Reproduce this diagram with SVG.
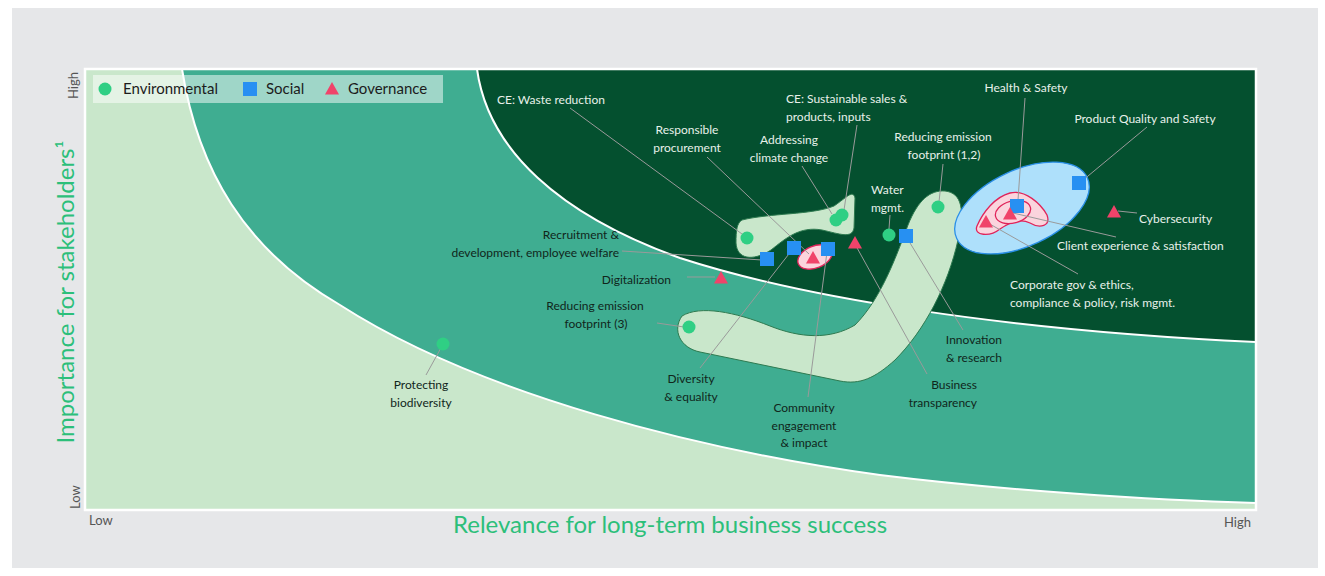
<svg xmlns="http://www.w3.org/2000/svg" xmlns:xlink="http://www.w3.org/1999/xlink" width="1325" height="576" viewBox="0 0 1325 576">
<style>
.lbl{font-family:Lato,"Liberation Sans",sans-serif;font-size:12px}
.lt{fill:#e8f1ea}
.dk{fill:#10261b}
.ld{stroke:#9a9a9a;stroke-width:1;fill:none}
.env{fill:#2fcf84}
.soc{fill:#2790f2}
.gov{fill:#f0436a}
.blob{fill:#c9e7cb;stroke:#2e7a50;stroke-width:1}
.pink{fill:#fbd4dd;stroke:#e0245a;stroke-width:1.3}
.sep{fill:none;stroke:#ffffff;stroke-width:2}
.ax{font-family:Lato,"Liberation Sans",sans-serif;font-size:13px;fill:#555}
.title{font-family:Lato,"Liberation Sans",sans-serif;font-size:24px;fill:#2cbf7a}
.leg{font-family:Lato,"Liberation Sans",sans-serif;font-size:15px;fill:#1c1c1c}
</style>
<defs>
<circle id="dot" r="6.5"/>
<rect id="sq" x="-7" y="-7" width="14" height="14"/>
<path id="tri" d="M0,-7 L7,5.5 L-7,5.5 Z"/>
</defs>
<rect x="0" y="0" width="1325" height="576" fill="#ffffff"/>
<rect x="12" y="8" width="1306" height="560" fill="#e6e7e9"/>

<g id="plot">
<rect x="85" y="69" width="1171" height="441" fill="#c9e7cb"/>
<path d="M182,69 C198,170 245,250 340,305 C480,395 700,450 880,475 C1000,490 1150,500 1256,503 L1256,69 Z" fill="#3fad91"/>
<path d="M477,69 C488,150 560,215 680,258 C800,297 1000,330 1256,342 L1256,69 Z" fill="#04502f"/>
<path class="sep" d="M182,69 C198,170 245,250 340,305 C480,395 700,450 880,475 C1000,490 1150,500 1256,503"/>
<path class="sep" d="M477,69 C488,150 560,215 680,258 C800,297 1000,330 1256,342"/>
<rect x="85" y="69" width="1171" height="441" fill="none" stroke="#ffffff" stroke-width="2.5"/>
</g>

<g id="axes">
<text class="ax" transform="translate(78,99) rotate(-90)">High</text>
<text class="ax" transform="translate(80,509) rotate(-90)">Low</text>
<text class="ax" x="89" y="525">Low</text>
<text class="ax" x="1251" y="527" text-anchor="end">High</text>
<text class="title" x="670" y="533" text-anchor="middle">Relevance for long-term business success</text>
<text class="title" transform="translate(74,292) rotate(-90)" text-anchor="middle">Importance for stakeholders¹</text>
</g>

<g id="legend">
<rect x="93" y="75" width="350" height="28" fill="#ffffff" fill-opacity="0.5"/>
<use xlink:href="#dot" x="105" y="89" class="env"/>
<text class="leg" x="123" y="94">Environmental</text>
<use xlink:href="#sq" x="250" y="89" class="soc"/>
<text class="leg" x="266" y="94">Social</text>
<use xlink:href="#tri" x="332" y="89" class="gov"/>
<text class="leg" x="348" y="94">Governance</text>
</g>

<g id="clusters">
<path id="blob-ce" class="blob" d="M742,220 C770,213 812,215 834,206 C846,198 853,189 855,198 L854,228 C852,239 840,234 822,230 C800,226 786,238 771,250 C752,262 737,259 736,243 C736,230 737,223 742,220 Z"/>
<path id="blob-boomerang" class="blob" d="M682,316 C700,305 735,312 770,326 C800,338 830,340 855,325 C880,300 895,260 908,225 C918,200 930,190 945,191 C962,193 965,210 958,240 C948,285 925,330 895,360 C875,378 860,385 840,381 L700,352 C680,348 672,330 682,316 Z"/>
<ellipse id="blue-ellipse" cx="1022" cy="208" rx="72" ry="38" transform="rotate(-25 1022 208)" fill="#aee0fb" stroke="#2a8fe8" stroke-width="1.3"/>
<path id="red-blob" class="pink" d="M977,226 C983,212 995,197 1010,193 C1025,189 1041,204 1047,215 C1051,226 1040,229 1030,223 C1020,218 1010,222 1000,229 C990,237 973,236 977,226 Z"/>
<ellipse class="pink" cx="1013" cy="212" rx="18" ry="11" transform="rotate(-15 1013 212)"/>
<ellipse class="pink" cx="815" cy="257" rx="18" ry="11" transform="rotate(-22 815 257)"/>
</g>

<g id="connectors">
<line class="ld" x1="570" y1="108" x2="742" y2="234"/>
<line class="ld" x1="707" y1="157" x2="809" y2="254"/>
<line class="ld" x1="802" y1="166" x2="832" y2="214"/>
<line class="ld" x1="857" y1="125" x2="844" y2="210"/>
<line class="ld" x1="943" y1="164" x2="939" y2="202"/>
<line class="ld" x1="890" y1="215" x2="889" y2="229"/>
<line class="ld" x1="1025" y1="98" x2="1018" y2="200"/>
<line class="ld" x1="1147" y1="127" x2="1082" y2="181"/>
<line class="ld" x1="1137" y1="213" x2="1118" y2="211"/>
<line class="ld" x1="1116" y1="237" x2="1013" y2="213"/>
<line class="ld" x1="1078" y1="274" x2="988" y2="223"/>
<line class="ld" x1="622" y1="251" x2="762" y2="260"/>
<line class="ld" x1="687" y1="277" x2="715" y2="277"/>
<line class="ld" x1="657" y1="323" x2="684" y2="327"/>
<line class="ld" x1="700" y1="368" x2="792" y2="250"/>
<line class="ld" x1="808" y1="397" x2="827" y2="252"/>
<line class="ld" x1="927" y1="374" x2="856" y2="246"/>
<line class="ld" x1="963" y1="330" x2="907" y2="238"/>
<line class="ld" x1="426" y1="375" x2="442" y2="346"/>
</g>

<g id="markers">
<use xlink:href="#dot" x="747" y="238" class="env"/>
<use xlink:href="#dot" x="836" y="220" class="env"/>
<use xlink:href="#dot" x="842" y="215" class="env"/>
<use xlink:href="#dot" x="889" y="235" class="env"/>
<use xlink:href="#dot" x="938" y="207" class="env"/>
<use xlink:href="#dot" x="689" y="327" class="env"/>
<use xlink:href="#dot" x="443" y="344" class="env"/>
<use xlink:href="#sq" x="767" y="259" class="soc"/>
<use xlink:href="#sq" x="794" y="248" class="soc"/>
<use xlink:href="#sq" x="828" y="249" class="soc"/>
<use xlink:href="#sq" x="906" y="236" class="soc"/>
<use xlink:href="#sq" x="1017" y="206" class="soc"/>
<use xlink:href="#sq" x="1079" y="183" class="soc"/>
<use xlink:href="#tri" x="813" y="258" class="gov"/>
<use xlink:href="#tri" x="855" y="243" class="gov"/>
<use xlink:href="#tri" x="721" y="278" class="gov"/>
<use xlink:href="#tri" x="986" y="222" class="gov"/>
<use xlink:href="#tri" x="1010" y="214" class="gov"/>
<use xlink:href="#tri" x="1114" y="212" class="gov"/>
</g>

<g id="labels">
<text class="lbl lt" x="497" y="104">CE: Waste reduction</text>
<text class="lbl lt" x="687" y="134" text-anchor="middle">Responsible</text>
<text class="lbl lt" x="687" y="152" text-anchor="middle">procurement</text>
<text class="lbl lt" x="789" y="144" text-anchor="middle">Addressing</text>
<text class="lbl lt" x="789" y="162" text-anchor="middle">climate change</text>
<text class="lbl lt" x="786" y="103">CE: Sustainable sales &amp;</text>
<text class="lbl lt" x="786" y="121">products, inputs</text>
<text class="lbl lt" x="943" y="141" text-anchor="middle">Reducing emission</text>
<text class="lbl lt" x="944" y="159" text-anchor="middle">footprint (1,2)</text>
<text class="lbl lt" x="871" y="194">Water</text>
<text class="lbl lt" x="871" y="212">mgmt.</text>
<text class="lbl lt" x="1026" y="92" text-anchor="middle">Health &amp; Safety</text>
<text class="lbl lt" x="1145" y="123" text-anchor="middle">Product Quality and Safety</text>
<text class="lbl lt" x="1139" y="223">Cybersecurity</text>
<text class="lbl lt" x="1057" y="250">Client experience &amp; satisfaction</text>
<text class="lbl lt" x="1010" y="289">Corporate gov &amp; ethics,</text>
<text class="lbl lt" x="1010" y="307">compliance &amp; policy, risk mgmt.</text>
<text class="lbl dk" x="619" y="239" text-anchor="end">Recruitment &amp;</text>
<text class="lbl dk" x="619" y="257" text-anchor="end">development, employee welfare</text>
<text class="lbl dk" x="671" y="284" text-anchor="end">Digitalization</text>
<text class="lbl dk" x="595" y="310" text-anchor="middle">Reducing emission</text>
<text class="lbl dk" x="596" y="328" text-anchor="middle">footprint (3)</text>
<text class="lbl dk" x="691" y="383" text-anchor="middle">Diversity</text>
<text class="lbl dk" x="691" y="401" text-anchor="middle">&amp; equality</text>
<text class="lbl dk" x="804" y="412" text-anchor="middle">Community</text>
<text class="lbl dk" x="804" y="430" text-anchor="middle">engagement</text>
<text class="lbl dk" x="804" y="447" text-anchor="middle">&amp; impact</text>
<text class="lbl dk" x="977" y="389" text-anchor="end">Business</text>
<text class="lbl dk" x="977" y="407" text-anchor="end">transparency</text>
<text class="lbl dk" x="1002" y="344" text-anchor="end">Innovation</text>
<text class="lbl dk" x="1002" y="362" text-anchor="end">&amp; research</text>
<text class="lbl dk" x="421" y="389" text-anchor="middle">Protecting</text>
<text class="lbl dk" x="421" y="407" text-anchor="middle">biodiversity</text>
</g>
</svg>
